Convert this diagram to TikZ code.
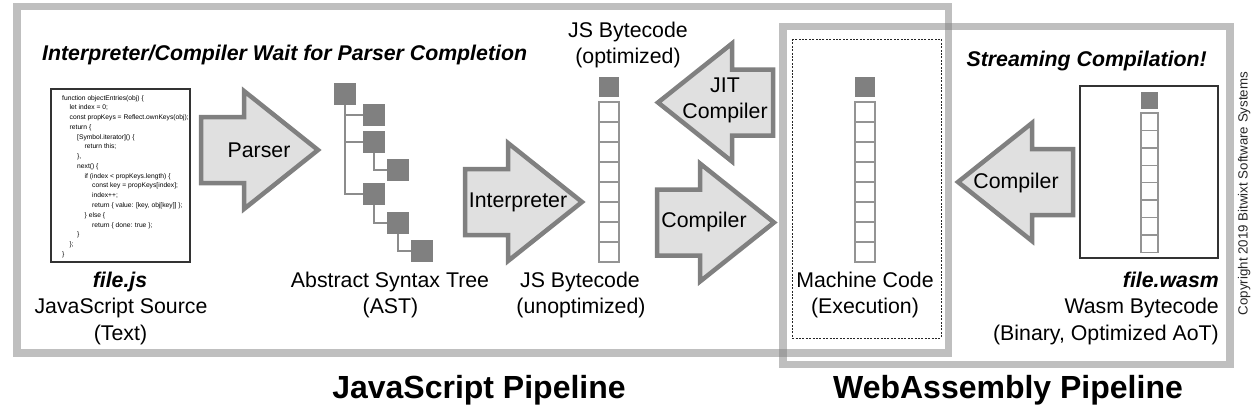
\documentclass[tikz,border=0pt]{standalone}
\usepackage{fontspec}
\setmainfont{Liberation Sans}
\tikzset{
  bigbox/.style={draw=black!50, draw opacity=0.5, line width=7.5pt},
  dashbox/.style={draw=black!85, line width=0.8pt, dash pattern=on 2pt off 1.4pt},
  filebox/.style={draw=black!80, line width=1.2pt, inner sep=0pt},
  flowarrow/.style={draw=black!50, fill=black!12, line width=4.5pt, line join=miter},
  cell/.style={draw=black!42, line width=1.4pt, fill=white},
  darkcell/.style={fill=black!50},
  astnode/.style={fill=black!50, minimum size=22pt, inner sep=0pt},
  astline/.style={draw=black!45, line width=2pt},
  lbl/.style={font=\fontsize{21.3}{26}\selectfont, anchor=base, inner sep=0pt},
  head/.style={font=\fontsize{21.3}{26}\selectfont\bfseries\itshape, inner sep=0pt},
  title/.style={font=\fontsize{32}{38}\selectfont\bfseries, anchor=base, inner sep=0pt},
  code/.style={font=\fontsize{6.7}{9.77}\selectfont, anchor=base west, inner sep=0pt},
}
\newcommand\RArrow[2]{%
  \draw[flowarrow] (#1,{#2-33}) -- ({#1+43},{#2-33}) -- ({#1+43},{#2-59}) -- ({#1+117},#2)
    -- ({#1+43},{#2+59}) -- ({#1+43},{#2+33}) -- (#1,{#2+33}) -- cycle;}
\newcommand\LArrow[2]{%
  \draw[flowarrow] (#1,#2) -- ({#1+74},{#2-59}) -- ({#1+74},{#2-33}) -- ({#1+115},{#2-33})
    -- ({#1+115},{#2+33}) -- ({#1+74},{#2+33}) -- ({#1+74},{#2+59}) -- cycle;}
\newcommand\ByteColumn[5]{%
  \fill[darkcell] (#1,#3) rectangle ++(#2,#2);
  \foreach \i in {0,...,7} {\draw[cell] (#1,{#4+\i*#5}) rectangle ++(#2,#5);}}
\begin{document}
\begin{tikzpicture}[x=1pt,y=-1pt]
\useasboundingbox (0,0) rectangle (1260,410);
% pipeline frames
\draw[bigbox] (17,6.5) rectangle (948.5,353);
\draw[bigbox] (783,26.5) rectangle (1230,364.5);
\draw[dashbox] (792,39) rectangle (941,338);

% headings
\node[head, anchor=base west] (headjs) at (42,60) {Interpreter/Compiler Wait for Parser Completion};
\node[head, anchor=base east] (headwasm) at (1207,66) {Streaming Compilation!};

% file.js
\node[filebox, minimum width=139pt, minimum height=173pt] (jsfile) at (120.5,175.5) {};
\node[code] (c1) at (62,100) {function objectEntries(obj) \{};
\node[code] (c2) at (69.5,109.77) {let index = 0;};
\node[code] (c3) at (69.5,119.54) {const propKeys = Reflect.ownKeys(obj);};
\node[code] (c4) at (69.5,129.31) {return \{};
\node[code] (c5) at (77,139.08) {[Symbol.iterator]() \{};
\node[code] (c6) at (84.5,148.85) {return this;};
\node[code] (c7) at (77,158.62) {\},};
\node[code] (c8) at (77,168.39) {next() \{};
\node[code] (c9) at (84.5,178.16) {if (index < propKeys.length) \{};
\node[code] (c10) at (92,187.93) {const key = propKeys[index];};
\node[code] (c11) at (92,197.7) {index++;};
\node[code] (c12) at (92,207.47) {return \{ value: [key, obj[key]] \};};
\node[code] (c13) at (84.5,217.24) {\} else \{};
\node[code] (c14) at (92,227.01) {return \{ done: true \};};
\node[code] (c15) at (77,236.78) {\}};
\node[code] (c16) at (69.5,246.55) {\};};
\node[code] (c17) at (62,256.32) {\}};
\node[lbl, font=\fontsize{21.3}{26}\selectfont\bfseries\itshape] (jsname) at (120,287) {file.js};
\node[lbl] (jsdesc) at (121,313) {JavaScript Source};
\node[lbl] (jstext) at (120.5,340) {(Text)};

% Parser arrow
\RArrow{201}{150}
\node[lbl] (parser) at (259,157) {Parser};

% AST
\node[astnode] (root) at (345,94) {};
\node[astnode] (n1) at (374,115) {};
\node[astnode] (n2) at (374,141.5) {};
\node[astnode] (n21) at (398,169.5) {};
\node[astnode] (n3) at (374,194) {};
\node[astnode] (n31) at (398,222.5) {};
\node[astnode] (n311) at (422,250.5) {};
\draw[astline] (root.south) |- (n1.west);
\draw[astline] (root.south) |- (n2.west);
\draw[astline] (root.south) |- (n3.west);
\draw[astline] (n2.south) |- (n21.west);
\draw[astline] (n3.south) |- (n31.west);
\draw[astline] (n31.south) |- (n311.west);
\node[lbl] (astl1) at (390,287) {Abstract Syntax Tree};
\node[lbl] (astl2) at (390.5,313) {(AST)};

% Interpreter arrow
\RArrow{465}{202}
\node[lbl] (interp) at (518,207) {Interpreter};

% JS bytecode
\ByteColumn{599}{20}{77}{102}{20}
\node[lbl] (opt1) at (628,37) {JS Bytecode};
\node[lbl] (opt2) at (628,63) {(optimized)};
\node[lbl] (unopt1) at (580,287) {JS Bytecode};
\node[lbl] (unopt2) at (581,313) {(unoptimized)};

% JIT compiler arrow
\LArrow{658}{102.5}
\node[lbl] (jit1) at (725,92) {JIT};
\node[lbl] (jit2) at (725,118) {Compiler};

% Compiler arrow
\RArrow{657}{222.5}
\node[lbl] (comp) at (704,227) {Compiler};

% Machine code
\ByteColumn{855}{20}{77}{102}{20}
\node[lbl] (mc1) at (865,287) {Machine Code};
\node[lbl] (mc2) at (865,313) {(Execution)};

% Wasm compiler arrow
\LArrow{958}{182}
\node[lbl] (wcomp) at (1016,188) {Compiler};

% file.wasm
\node[filebox, minimum width=138pt, minimum height=172pt] (wasmfile) at (1149,172) {};
\ByteColumn{1141}{17}{92}{113}{17.4}
\node[lbl, anchor=base east, font=\fontsize{21.3}{26}\selectfont\bfseries\itshape] (wname) at (1219,287) {file.wasm};
\node[lbl, anchor=base east] (wdesc) at (1219,313) {Wasm Bytecode};
\node[lbl, anchor=base east] (wbin) at (1219,340) {(Binary, Optimized AoT)};

% titles
\node[title] (jstitle) at (479,398) {JavaScript Pipeline};
\node[title] (wtitle) at (1008,398) {WebAssembly Pipeline};

% copyright
\node[rotate=90, anchor=base, inner sep=0pt, font=\fontsize{13.3}{16}\selectfont, text=black!85] (copy) at (1247.5,193.5) {Copyright 2019 Bitwixt Software Systems};
\end{tikzpicture}
\end{document}
